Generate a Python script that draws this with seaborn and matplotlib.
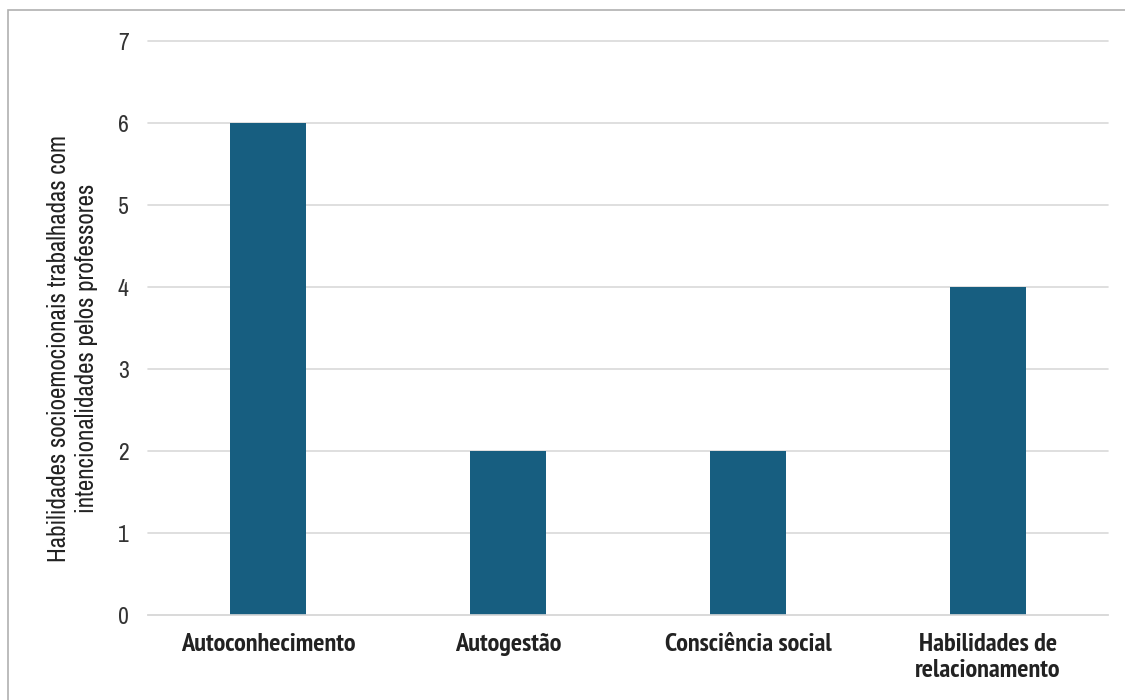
import matplotlib
matplotlib.use("Agg")
import matplotlib.pyplot as plt
import seaborn as sns
import pandas as pd
from matplotlib.patches import Rectangle

categorias = ["Autoconhecimento", "Autogestão", "Consciência social",
              "Habilidades de\nrelacionamento"]
valores = [6, 2, 2, 4]
yticks = [0, 1, 2, 3, 4, 5, 6, 7]
ylabel = "Habilidades socioemocionais trabalhadas com\nintencionalidades pelos professores"

sns.set_theme(style="white")
plt.rcParams["font.family"] = ["Archivo Narrow", "DejaVu Sans"]

df = pd.DataFrame({"categoria": categorias, "valor": valores})

fig = plt.figure(figsize=(11.25, 7), dpi=100)
fig.patch.set_facecolor("white")
# outer frame of the chart area
fig.add_artist(Rectangle((8 / 1125, -0.01), 1.02, 1 - 10 / 700 + 0.01,
                         transform=fig.transFigure, fill=False,
                         edgecolor="#b0b0b0", linewidth=1.2))

ax = fig.add_axes([148 / 1125, 1 - 615 / 700, 960 / 1125, 574 / 700])
sns.barplot(data=df, x="categoria", y="valor", color="#175E80",
            saturation=1, width=0.317, linewidth=0, ax=ax)

ax.set_ylim(0, 7)
ax.set_yticks(yticks)
ax.set_yticklabels([str(t) for t in yticks], fontsize=17, color="#333333")
ax.set_xlim(-0.5, len(categorias) - 0.5)
for lab in ax.get_xticklabels():
    lab.set_family(["PT Sans Narrow", "DejaVu Sans"])
    lab.set_fontweight("bold")
    lab.set_fontsize(19)
    lab.set_color("#222222")
    lab.set_linespacing(1.15)
ax.tick_params(axis="y", length=0, pad=14)
ax.tick_params(axis="x", length=0, pad=13)
ax.yaxis.grid(True, color="#d9d9d9", linewidth=1.2)
for gl in ax.yaxis.get_gridlines():
    gl.set_clip_on(False)
ax.set_axisbelow(True)
for s in ["top", "right", "left"]:
    ax.spines[s].set_visible(False)
ax.spines["bottom"].set_color("#d9d9d9")
ax.spines["bottom"].set_linewidth(1.2)
ax.set_xlabel("")
ax.set_ylabel(ylabel, fontsize=18, color="#222222", linespacing=1.25)
ax.yaxis.set_label_coords(-0.052, 0.465)

fig.savefig("out.png", dpi=100, facecolor="white")
